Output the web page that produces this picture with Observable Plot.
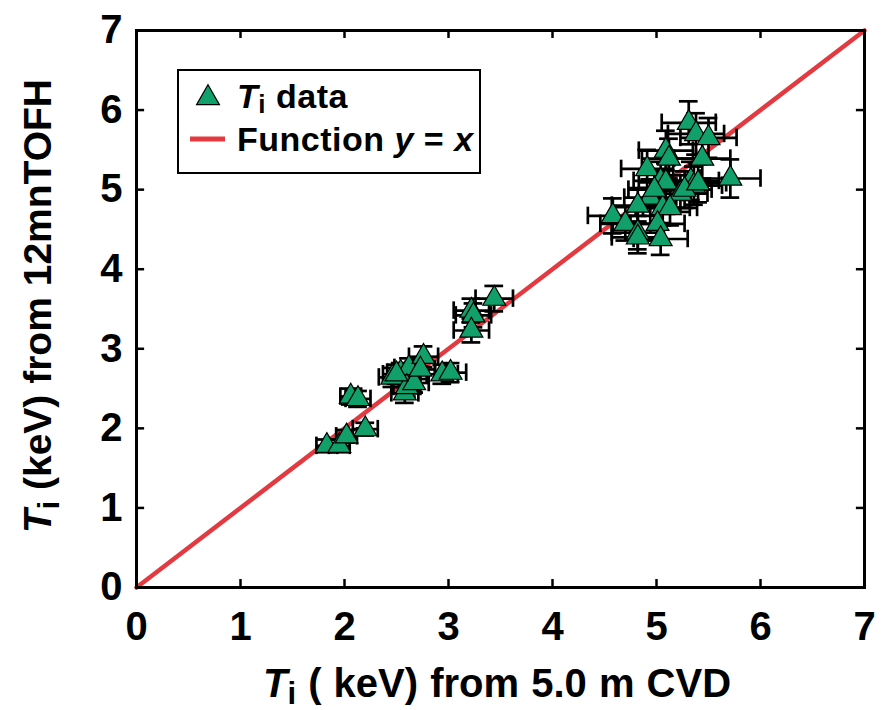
<!DOCTYPE html>
<html><head><meta charset="utf-8">
<script src="https://cdn.jsdelivr.net/npm/d3@7"></script>
<script src="https://cdn.jsdelivr.net/npm/@observablehq/plot@0.6"></script>
<style>body{margin:0;background:#fff}</style>
</head><body><div id="chart"></div>
<script>
// Ti (keV) from 5.0 m CVD
const cvd = [1.83, 1.95, 2.02, 2.20, 2.06, 2.13,
  2.46, 2.54, 2.62, 2.76, 2.58, 2.60, 2.67, 2.73, 2.94, 3.02, 2.50,
  3.22, 3.24, 3.22, 3.44,
  5.31, 5.38, 5.50, 5.09, 5.12, 5.44, 4.91, 5.71, 5.04, 5.09, 5.33, 5.36, 5.23,
  4.94, 4.82, 5.06, 5.13, 4.58, 4.70, 5.01, 4.82, 4.82, 5.04, 5.27, 5.40, 4.98];
// Ti (keV) from 12mnTOFH
const tofh = [1.78, 1.78, 1.90, 1.99, 2.40, 2.37,
  2.64, 2.70, 2.76, 2.90, 2.44, 2.52, 2.57, 2.74, 2.68, 2.70, 2.68,
  3.48, 3.42, 3.23, 3.63,
  5.84, 5.70, 5.65, 5.49, 5.39, 5.39, 5.26, 5.14, 5.11, 5.09, 5.11, 5.05, 4.95,
  4.90, 4.80, 4.77, 4.77, 4.67, 4.57, 4.57, 4.46, 4.40, 4.38, 5.00, 5.08, 5.00];
const cvdErr = [0.10, 0.10, 0.10, 0.12, 0.10, 0.12,
  0.13, 0.13, 0.14, 0.14, 0.13, 0.13, 0.14, 0.14, 0.15, 0.15, 0.13,
  0.17, 0.17, 0.17, 0.18,
  0.26, 0.27, 0.27, 0.26, 0.26, 0.27, 0.25, 0.29, 0.26, 0.26, 0.27, 0.27, 0.26,
  0.25, 0.25, 0.26, 0.26, 0.24, 0.24, 0.26, 0.25, 0.25, 0.26, 0.26, 0.27, 0.25];
const tofhErr = [0.08, 0.08, 0.08, 0.08, 0.10, 0.10,
  0.12, 0.12, 0.12, 0.13, 0.12, 0.12, 0.12, 0.12, 0.12, 0.12, 0.12,
  0.15, 0.15, 0.15, 0.16,
  0.27, 0.26, 0.25, 0.25, 0.25, 0.25, 0.24, 0.24, 0.24, 0.24, 0.24, 0.24, 0.23,
  0.23, 0.22, 0.22, 0.22, 0.22, 0.21, 0.21, 0.21, 0.20, 0.20, 0.23, 0.24, 0.23];
const tickValues = [0, 1, 2, 3, 4, 5, 6, 7];
const fitX = [0, 7];
const fitY = [0, 7];

const GREEN = "#12a06a", RED = "#e23a40";
const FONT = "'Liberation Sans', Arial, Helvetica, sans-serif";

const pts = cvd.map((x, i) => ({x, y: tofh[i], xe: cvdErr[i], ye: tofhErr[i]}));
const fit = fitX.map((x, i) => ({x, y: fitY[i]}));

const capX = 0.11, capY = 0.09, tk = 0.1;
const eb = {stroke: "#000", strokeWidth: 2.7};

const plot = Plot.plot({
  width: 885, height: 710,
  marginLeft: 136, marginRight: 21, marginTop: 30, marginBottom: 123,
  style: {fontFamily: FONT, fontWeight: "bold", background: "#fff", color: "#000"},
  x: {domain: [0, 7], label: null},
  y: {domain: [0, 7], label: null},
  marks: [
    Plot.line(fit, {x: "x", y: "y", stroke: RED, strokeWidth: 4.5}),
    // error bars
    Plot.ruleY(pts, {y: "y", x1: d => d.x - d.xe, x2: d => d.x + d.xe, ...eb}),
    Plot.ruleX(pts, {x: "x", y1: d => d.y - d.ye, y2: d => d.y + d.ye, ...eb}),
    Plot.ruleX(pts, {x: d => d.x - d.xe, y1: d => d.y - capX, y2: d => d.y + capX, ...eb}),
    Plot.ruleX(pts, {x: d => d.x + d.xe, y1: d => d.y - capX, y2: d => d.y + capX, ...eb}),
    Plot.ruleY(pts, {y: d => d.y - d.ye, x1: d => d.x - capY, x2: d => d.x + capY, ...eb}),
    Plot.ruleY(pts, {y: d => d.y + d.ye, x1: d => d.x - capY, x2: d => d.x + capY, ...eb}),
    Plot.dot(pts, {x: "x", y: "y", symbol: "triangle", r: 8.5, fill: GREEN, stroke: "#000", strokeWidth: 1.2, fillOpacity: 1}),
    // inward ticks
    Plot.ruleX(tickValues, {x: d => d, y1: 0, y2: tk, stroke: "#000", strokeWidth: 2.5}),
    Plot.ruleX(tickValues, {x: d => d, y1: 7 - tk, y2: 7, stroke: "#000", strokeWidth: 2.5}),
    Plot.ruleY(tickValues, {y: d => d, x1: 0, x2: tk * 0.78, stroke: "#000", strokeWidth: 2.5}),
    Plot.ruleY(tickValues, {y: d => d, x1: 7 - tk * 0.78, x2: 7, stroke: "#000", strokeWidth: 2.5}),
    Plot.axisX({ticks: tickValues, tickFormat: d => String(d), tickSize: 0, tickPadding: 24, fontSize: 40, fontWeight: "bold", label: null}),
    Plot.axisY({ticks: tickValues, tickFormat: d => String(d), tickSize: 0, tickPadding: 14, fontSize: 40, fontWeight: "bold", label: null}),
    Plot.frame({stroke: "#000", strokeWidth: 3})
  ]
});
document.getElementById("chart").appendChild(plot);

const svg = d3.select(plot);
// x axis label
const xl = svg.append("text").attr("x", 497).attr("y", 697).attr("text-anchor", "middle")
  .style("font-size", "40px").style("font-weight", "bold").style("font-family", FONT).style("word-spacing", "1px");
xl.append("tspan").style("font-style", "italic").text("T");
xl.append("tspan").attr("dy", 7).style("font-size", "31px").text("i");
xl.append("tspan").attr("dy", -7).text(" ( keV) from 5.0 m CVD");
// y axis label
const yl = svg.append("text").attr("transform", "translate(51,306) rotate(-90)").attr("text-anchor", "middle")
  .style("font-size", "39px").style("font-weight", "bold").style("font-family", FONT);
yl.append("tspan").style("font-style", "italic").text("T");
yl.append("tspan").attr("dy", 8).style("font-size", "30px").text("i");
yl.append("tspan").attr("dy", -8).text(" (keV) from 12mnTOFH");

// legend
const lg = svg.append("g");
lg.append("rect").attr("x", 178).attr("y", 70).attr("width", 302).attr("height", 103)
  .attr("fill", "#fff").attr("stroke", "#000").attr("stroke-width", 2);
lg.append("path").attr("d", d3.symbol(d3.symbolTriangle, Math.PI * 72)())
  .attr("transform", "translate(208,98)").attr("fill", GREEN).attr("stroke", "#000").attr("stroke-width", 1.2);
const t1 = lg.append("text").attr("x", 237).attr("y", 108).attr("text-anchor", "start")
  .style("font-size", "34px").style("font-weight", "bold").style("font-family", FONT).style("letter-spacing", "0.5px");
t1.append("tspan").style("font-style", "italic").text("T");
t1.append("tspan").attr("dy", 5).style("font-size", "26px").text("i");
t1.append("tspan").attr("dy", -5).text(" data");
lg.append("line").attr("x1", 190).attr("x2", 225).attr("y1", 139).attr("y2", 139)
  .attr("stroke", RED).attr("stroke-width", 5);
const t2 = lg.append("text").attr("x", 237).attr("y", 151).attr("text-anchor", "start")
  .style("font-size", "34px").style("font-weight", "bold").style("font-family", FONT).style("letter-spacing", "0.5px");
t2.append("tspan").text("Function ");
t2.append("tspan").style("font-style", "italic").text("y");
t2.append("tspan").text(" = ");
t2.append("tspan").style("font-style", "italic").text("x");
</script>
</body></html>
